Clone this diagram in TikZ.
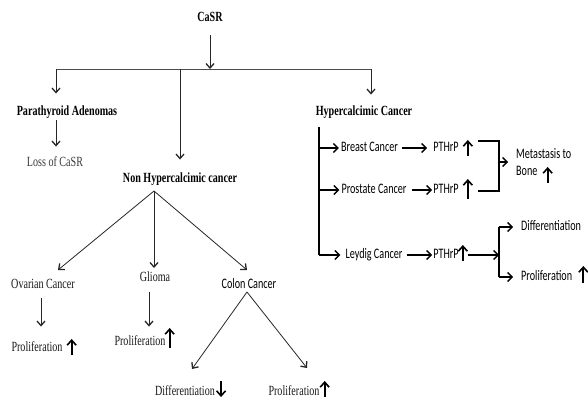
\documentclass[tikz,border=0pt]{standalone}
\usepackage{fontspec}
\setmainfont{Liberation Serif}[FakeStretch=0.72]
\newfontfamily\calfont{Carlito}[FakeStretch=0.70]
\usetikzlibrary{arrows.meta}
\begin{document}
\begin{tikzpicture}[x=1pt,y=-1pt,
  every node/.style={inner sep=0pt, text height=9.5pt, text depth=3pt},
  ser/.style={font=\fontsize{14}{16}\selectfont, text=black!90},
  bser/.style={font=\fontsize{14}{16}\selectfont\bfseries},
  sns/.style={font=\calfont\fontsize{14.5}{17}\selectfont},
  ln/.style={draw=black!70, line width=0.8pt},
  arr/.style={ln, -{Straight Barb[length=4.5pt,width=8pt,line width=1.3pt]}, color=black!85},
  rln/.style={draw=black, line width=1.1pt},
  rarr/.style={rln, -{Straight Barb[length=4.5pt,width=9pt,line width=1.4pt]}},
  uparr/.style={draw=black, line width=1.8pt, -{Straight Barb[length=5pt,width=9pt,line width=1.6pt]}}
]
\fill[white] (0,0) rectangle (588,398);
\useasboundingbox (0,0) rectangle (588,398);

% ---- nodes ----
\node[bser] (casr) at (210,18) {CaSR};
\node[bser] (para) at (67,112) {Parathyroid Adenomas};
\node[ser, text=black!78] (loss) at (55,163) {Loss of CaSR};
\node[bser] (nonh) at (180,179) {Non Hypercalcimic cancer};
\node[bser] (hyper) at (364,112) {Hypercalcimic Cancer};

\node[ser] (ovar) at (43,285) {Ovarian Cancer};
\node[ser] (glio) at (155,278) {Glioma};
\node[sns] (colon) at (249,285) {Colon Cancer};
\node[ser] (prol1) at (37,348) {Proliferation};
\node[ser] (prol2) at (140,342) {Proliferation};
\node[ser] (diff3) at (185,392) {Differentiation};
\node[ser] (prol3) at (294,392) {Proliferation};

\node[sns] (breast) at (369.5,148) {Breast Cancer};
\node[sns] (pth1) at (446,148) {PTHrP};
\node[sns] (prost) at (374,190) {Prostate Cancer};
\node[sns] (pth2) at (446,190) {PTHrP};
\node[sns] (leyd) at (374,255) {Leydig Cancer};
\node[sns] (pth3) at (446,255) {PTHrP};
\node[sns, anchor=west] (meta1) at (516,155) {Metastasis to};
\node[sns, anchor=west] (meta2) at (516,172) {Bone};
\node[sns, anchor=west] (diffr) at (521,227) {Differentiation};
\node[sns, anchor=west] (prolr) at (521,277) {Proliferation};

% ---- coordinates ----
\coordinate (j) at (210,69);
\coordinate (hl) at (56,69);
\coordinate (hm) at (180,69);
\coordinate (hr) at (371,69);
\coordinate (apex) at (154,191);
\coordinate (capex) at (247,292);
\coordinate (vtop) at (319,127);
\coordinate (vbot) at (319,255);
\coordinate (btop) at (499,141);
\coordinate (bbot) at (499,191);
\coordinate (bmid) at (499,162);
\coordinate (ltop) at (499,227);
\coordinate (lbot) at (499,277);
\coordinate (lmid) at (499,255);

% ---- left tree ----
\draw[arr, shorten <=11pt] (casr) -- (j);
\draw[ln] (hl) -- (hr);
\draw[arr, shorten >=12pt] (hl) -- (hl |- para.north);
\draw[arr, shorten <=2pt, shorten >=10pt] (para.south -| hl) -- (loss.north -| hl);
\draw[arr, shorten >=13pt] (hm) -- (hm |- nonh.north);
\draw[arr, shorten >=11pt] (hr) -- (hr |- hyper.north);

\draw[arr] (apex) -- ([shift={(15,-15)}]ovar.center);
\draw[arr] (apex) -- ([shift={(-1,-10)}]glio.center);
\draw[arr] (apex) -- ([shift={(-2,-15)}]colon.center);
\draw[arr, shorten <=7pt, shorten >=15pt] ([xshift=-2pt]ovar.south) -- ([xshift=4pt]prol1.north);
\draw[arr, shorten <=8pt, shorten >=9pt] ([xshift=-6pt]glio.south) -- ([xshift=9pt]prol2.north);
\draw[arr] (capex) -- ([shift={(7,-23)}]diff3.center);
\draw[arr] (capex) -- ([shift={(13,-24)}]prol3.center);

% ---- right side ----
\draw[rln] (vtop) -- (vbot);
\draw[rarr, shorten >=2pt] (vtop |- breast) -- (breast.west);
\draw[rarr, shorten <=4pt, shorten >=6pt] (breast.east) -- (pth1.west);
\draw[rarr, shorten >=2pt] (vtop |- prost) -- (prost.west);
\draw[rarr, shorten <=5pt, shorten >=1pt] (prost.east) -- (pth2.west);
\draw[rarr, shorten >=5pt] (vbot) -- (leyd.west);
\draw[rarr, shorten <=4pt, shorten >=1pt] (leyd.east) -- (pth3.west);

\draw[rln] ([xshift=19pt]pth1.east |- btop) -- (btop) -- (bbot) -- ([xshift=19pt]pth2.east |- bbot);
\draw[rarr, shorten >=1pt] (bmid) -- ([xshift=-7pt]meta1.west |- bmid);

\draw[rarr] ([xshift=9pt]pth3.east) -- (lmid);
\draw[rln] (ltop) -- (lbot);
\draw[rarr, shorten >=8pt] (ltop) -- (diffr.west);
\draw[rarr, shorten >=8pt] (lbot) -- (prolr.west);

% ---- up / down indicator arrows ----
\draw[uparr] ([shift={(9,8)}]pth1.east) -- ++(0,-16);
\draw[uparr] ([shift={(9,9)}]pth2.east) -- ++(0,-20);
\draw[uparr] ([shift={(4,6)}]pth3.east) -- ++(0,-16);
\draw[uparr] ([shift={(10,11)}]meta2.east) -- ++(0,-16);
\draw[uparr] ([shift={(11,6)}]prolr.east) -- ++(0,-17);
\draw[uparr] ([shift={(9,7)}]prol1.east) -- ++(0,-16);
\draw[uparr] ([shift={(4,6)}]prol2.east) -- ++(0,-20);
\draw[uparr] ([shift={(6,-11)}]diff3.east) -- ++(0,16);
\draw[uparr] ([shift={(5,5)}]prol3.east) -- ++(0,-16);
\end{tikzpicture}
\end{document}
